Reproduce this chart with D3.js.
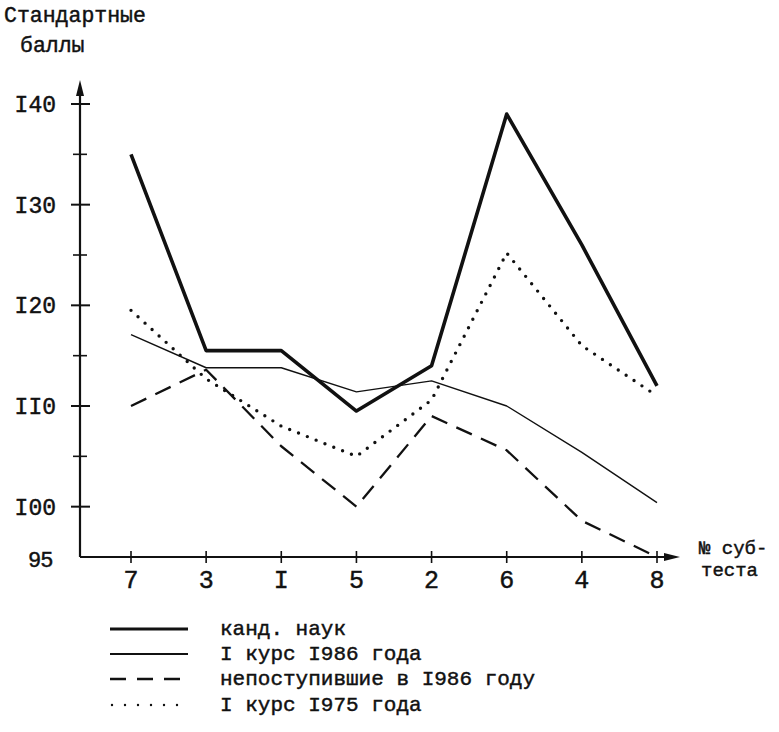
<!DOCTYPE html>
<html>
<head>
<meta charset="utf-8">
<script src="https://cdn.jsdelivr.net/npm/d3@7"></script>
<style>
  body { margin: 0; background: #fff; }
  text { font-family: "Liberation Mono", "DejaVu Sans Mono", monospace; fill: #111; stroke: #111; stroke-width: 0.45px; }
</style>
</head>
<body>
<div id="chart"></div>
<script>
// subtest numbers along the x axis (typewriter "I" for 1)
const categories = ["7", "3", "I", "5", "2", "6", "4", "8"];
const yTicks = [100, 110, 120, 130, 140];
const yTickLabels = ["I00", "II0", "I20", "I30", "I40"];
const yMinorTicks = [105, 115, 125, 135];

const kandNauk = [135, 115.5, 115.5, 109.5, 114, 139, 126, 112];
const kurs1986 = [117.1, 113.8, 113.8, 111.4, 112.5, 110, 105.4, 100.4];
const nepost1986 = [110, 113.6, 106, 100, 109, 105.6, 98.6, 95];
const kurs1975 = [119.5, 112.7, 108, 105, 110.6, 125.2, 116, 111];

const seriesNames = ["канд. наук", "I курс I986 года", "непоступившие в I986 году", "I курс I975 года"];

const width = 779, height = 732;
const svg = d3.select("#chart").append("svg")
    .attr("width", width)
    .attr("height", height);

const x = d3.scalePoint().domain(categories).range([131, 657]);
const y = d3.scaleLinear().domain([95, 140]).range([557, 104]);

const styles = [
    { w: 3.6, dash: null, cap: "butt" },
    { w: 1.4, dash: null, cap: "butt" },
    { w: 2.3, dash: "17 10", cap: "butt" },
    { w: 3.4, dash: "0 9.5", cap: "round" }
];
const allSeries = [kandNauk, kurs1986, nepost1986, kurs1975];

// axes
const axisX0 = 80;
svg.append("line")
    .attr("x1", axisX0).attr("x2", axisX0)
    .attr("y1", y(95)).attr("y2", 92)
    .attr("stroke", "#111").attr("stroke-width", 2.2);
svg.append("path")
    .attr("d", `M${axisX0},80 L${axisX0 - 4},96 L${axisX0 + 4},96 Z`)
    .attr("fill", "#111");

svg.append("line")
    .attr("x1", axisX0).attr("x2", 668)
    .attr("y1", y(95)).attr("y2", y(95))
    .attr("stroke", "#111").attr("stroke-width", 2.2);
svg.append("path")
    .attr("d", `M680,${y(95)} L664,${y(95) - 4} L664,${y(95) + 4} Z`)
    .attr("fill", "#111");

svg.selectAll(".ytick")
    .data(yTicks)
    .enter().append("line")
    .attr("x1", axisX0 - 9).attr("x2", axisX0 + 10)
    .attr("y1", d => y(d)).attr("y2", d => y(d))
    .attr("stroke", "#111").attr("stroke-width", 2);

svg.selectAll(".yminor")
    .data(yMinorTicks)
    .enter().append("line")
    .attr("x1", axisX0 - 7).attr("x2", axisX0 + 7)
    .attr("y1", d => y(d)).attr("y2", d => y(d))
    .attr("stroke", "#111").attr("stroke-width", 1.6);

svg.selectAll(".ylabel")
    .data(yTicks)
    .enter().append("text")
    .attr("x", 56)
    .attr("y", d => y(d) + 8)
    .attr("text-anchor", "end")
    .style("font-size", "23px")
    .text((d, i) => yTickLabels[i]);

svg.append("text")
    .attr("x", 53).attr("y", y(95) + 10)
    .attr("text-anchor", "end")
    .style("font-family", "'Liberation Sans', sans-serif")
    .style("font-size", "22px")
    .text("95");

svg.selectAll(".xtick")
    .data(categories)
    .enter().append("line")
    .attr("x1", d => x(d)).attr("x2", d => x(d))
    .attr("y1", y(95) - 6).attr("y2", y(95) + 6)
    .attr("stroke", "#111").attr("stroke-width", 1.6);

svg.selectAll(".xlabel")
    .data(categories)
    .enter().append("text")
    .attr("x", d => x(d))
    .attr("y", 588)
    .attr("text-anchor", "middle")
    .style("font-size", "25px")
    .text(d => d);

// axis titles
svg.append("text").attr("x", 4).attr("y", 22)
    .style("font-size", "21.5px").text("Стандартные");
svg.append("text").attr("x", 20).attr("y", 52)
    .style("font-size", "21.5px").text("баллы");
svg.append("text").attr("x", 699).attr("y", 554)
    .style("font-size", "19px").text("№ суб-");
svg.append("text").attr("x", 701).attr("y", 576)
    .style("font-size", "19px").text("теста");

// series lines
const line = d3.line()
    .x((d, i) => x(categories[i]))
    .y(d => y(d));

allSeries.forEach((s, k) => {
    svg.append("path")
        .datum(s)
        .attr("d", line)
        .attr("fill", "none")
        .attr("stroke", "#111")
        .attr("stroke-width", styles[k].w)
        .attr("stroke-dasharray", styles[k].dash)
        .attr("stroke-linecap", styles[k].cap)
        .attr("stroke-linejoin", "round");
});

// legend
const legendY = [629, 654, 679, 705];
seriesNames.forEach((name, k) => {
    svg.append("line")
        .attr("x1", k === 3 ? 112 : 110).attr("x2", 188)
        .attr("y1", legendY[k]).attr("y2", legendY[k])
        .attr("stroke", "#111")
        .attr("stroke-width", k === 3 ? 2.4 : (k === 0 ? 3 : (k === 1 ? 2 : 2.3)))
        .attr("stroke-dasharray", k === 2 ? "16 11" : (k === 3 ? "0 13" : null))
        .attr("stroke-linecap", styles[k].cap);
    svg.append("text")
        .attr("x", 220).attr("y", legendY[k] + 6)
        .style("font-size", "21px")
        .text(name);
});
</script>
</body>
</html>
